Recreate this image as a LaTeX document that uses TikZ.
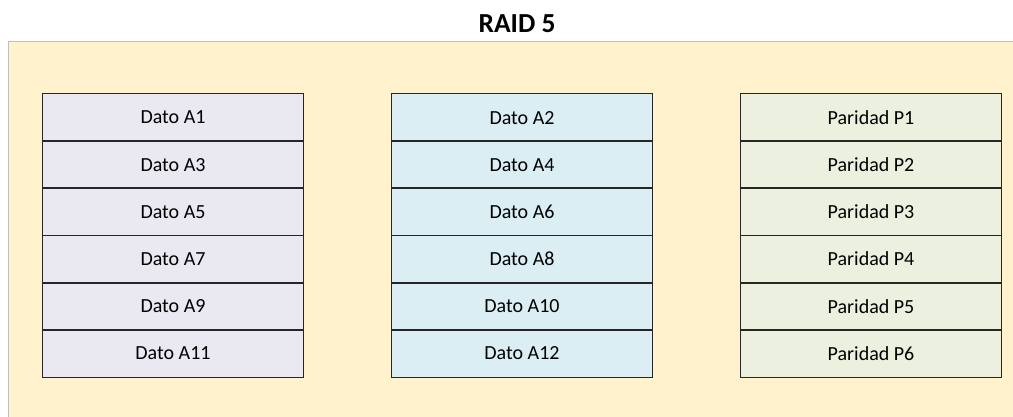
\documentclass[tikz,border=0pt]{standalone}
\usepackage{fontspec}
\setmainfont{Carlito}
\usepackage{tikz}
\usetikzlibrary{positioning}
\definecolor{bgback}{HTML}{FFF2CC}
\definecolor{bgframe}{HTML}{BFBFBF}
\definecolor{diskA}{HTML}{EAE8F0}
\definecolor{diskB}{HTML}{DAEEF3}
\definecolor{diskC}{HTML}{EBF1DE}

\begin{document}
\begin{tikzpicture}[x=1pt,y=1pt,node distance=47.17pt,
  block/.style={rectangle,minimum width=260pt,minimum height=47.17pt,
    inner sep=0pt,font=\fontsize{20}{24}\selectfont},
  frame/.style={draw=black!85,line width=1.3pt}]
  \useasboundingbox (0,0) rectangle (1013,417);
  \clip (0,0) rectangle (1013,417);
  \draw[bgframe,fill=bgback,line width=1pt] (8,-10) rectangle (1030,375);
  \node (title) at (517,393) {\fontsize{27.5}{32}\selectfont\bfseries RAID 5};

  % disco 1
  \node[block,fill=diskA] (a1) at (173,299.4) {Dato A1};
  \node[block,fill=diskA] (a3)  [below of=a1] {Dato A3};
  \node[block,fill=diskA] (a5)  [below of=a3] {Dato A5};
  \node[block,fill=diskA] (a7)  [below of=a5] {Dato A7};
  \node[block,fill=diskA] (a9)  [below of=a7] {Dato A9};
  \node[block,fill=diskA] (a11) [below of=a9] {Dato A11};

  % disco 2
  \node[block,fill=diskB] (a2) at (522,299.4) {Dato A2};
  \node[block,fill=diskB] (a4)  [below of=a2] {Dato A4};
  \node[block,fill=diskB] (a6)  [below of=a4] {Dato A6};
  \node[block,fill=diskB] (a8)  [below of=a6] {Dato A8};
  \node[block,fill=diskB] (a10) [below of=a8] {Dato A10};
  \node[block,fill=diskB] (a12) [below of=a10] {Dato A12};

  % disco 3 (paridad)
  \node[block,fill=diskC] (p1) at (871,299.4) {Paridad P1};
  \node[block,fill=diskC] (p2) [below of=p1] {Paridad P2};
  \node[block,fill=diskC] (p3) [below of=p2] {Paridad P3};
  \node[block,fill=diskC] (p4) [below of=p3] {Paridad P4};
  \node[block,fill=diskC] (p5) [below of=p4] {Paridad P5};
  \node[block,fill=diskC] (p6) [below of=p5] {Paridad P6};

  % bordes encima de los rellenos
  \foreach \b in {a1,a3,a5,a7,a9,a11,a2,a4,a6,a8,a10,a12,p1,p2,p3,p4,p5,p6}
    \draw[frame] (\b.north west) rectangle (\b.south east);
\end{tikzpicture}
\end{document}
